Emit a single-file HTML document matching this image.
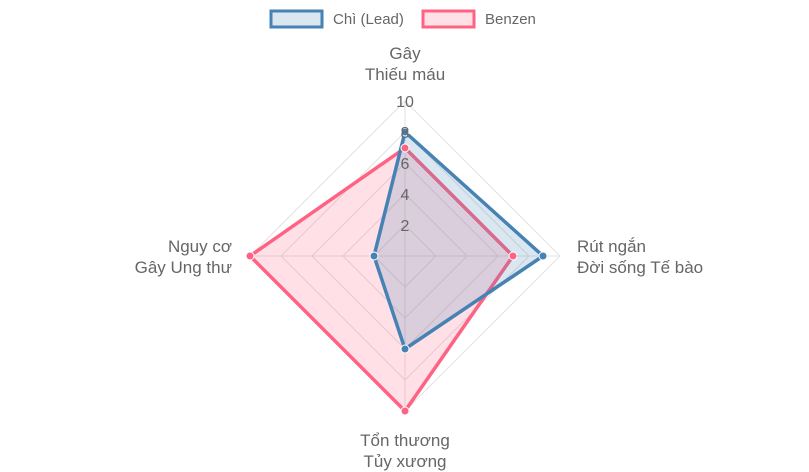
<!DOCTYPE html>
<html><head><meta charset="utf-8"><style>
html,body{margin:0;padding:0;background:#fff;}
svg{display:block;font-family:"Liberation Sans",sans-serif;}
</style></head><body>
<svg width="809" height="472" viewBox="0 0 809 472">
<g stroke="#e2e2e2" stroke-width="1" fill="none">
<polygon points="405,225 436,256 405,287 374,256"/>
<polygon points="405,194 467,256 405,318 343,256"/>
<polygon points="405,163 498,256 405,349 312,256"/>
<polygon points="405,132 529,256 405,380 281,256"/>
<polygon points="405,101 560,256 405,411 250,256"/>
<line x1="405" y1="256" x2="405" y2="101"/>
<line x1="405" y1="256" x2="560" y2="256"/>
<line x1="405" y1="256" x2="405" y2="411"/>
<line x1="405" y1="256" x2="250" y2="256"/>
</g>
<polygon points="405,148 513,256 405,411 250,256" fill="rgba(255,99,132,0.2)" stroke="#ff6384" stroke-width="3.5" stroke-linejoin="miter"/>
<polygon points="405,132 543,256 405,349 374,256" fill="rgba(70,130,180,0.2)" stroke="#4682b4" stroke-width="3.5"/>
<g fill="#ff6384" stroke="#fff" stroke-width="1">
<circle cx="405" cy="148" r="4"/><circle cx="513" cy="256" r="4"/><circle cx="405" cy="411" r="4"/><circle cx="250" cy="256" r="4"/>
</g>
<g fill="#4682b4" stroke="#fff" stroke-width="1">
<circle cx="405" cy="132" r="4"/><circle cx="543" cy="256" r="4"/><circle cx="405" cy="349" r="4"/><circle cx="374" cy="256" r="4"/>
</g>
<g fill="#666" font-size="16" text-anchor="middle">
<text x="405" y="107">10</text>
<text x="405" y="138">8</text>
<text x="405" y="169">6</text>
<text x="405" y="200">4</text>
<text x="405" y="231">2</text>
</g>
<g fill="#666" font-size="17">
<text x="405" y="59" text-anchor="middle">Gây</text>
<text x="405" y="80" text-anchor="middle">Thiếu máu</text>
<text x="577" y="252">Rút ngắn</text>
<text x="577" y="273">Đời sống Tế bào</text>
<text x="405" y="446" text-anchor="middle">Tổn thương</text>
<text x="405" y="467" text-anchor="middle">Tủy xương</text>
<text x="232" y="252" text-anchor="end">Nguy cơ</text>
<text x="232" y="273" text-anchor="end">Gây Ung thư</text>
</g>
<rect x="271" y="11" width="51" height="16" fill="rgba(70,130,180,0.2)" stroke="#4682b4" stroke-width="3"/>
<text x="333" y="24" fill="#666" font-size="15">Chì (Lead)</text>
<rect x="423" y="11" width="51" height="16" fill="rgba(255,99,132,0.2)" stroke="#ff6384" stroke-width="3"/>
<text x="485" y="24" fill="#666" font-size="15">Benzen</text>
</svg>
</body></html>
